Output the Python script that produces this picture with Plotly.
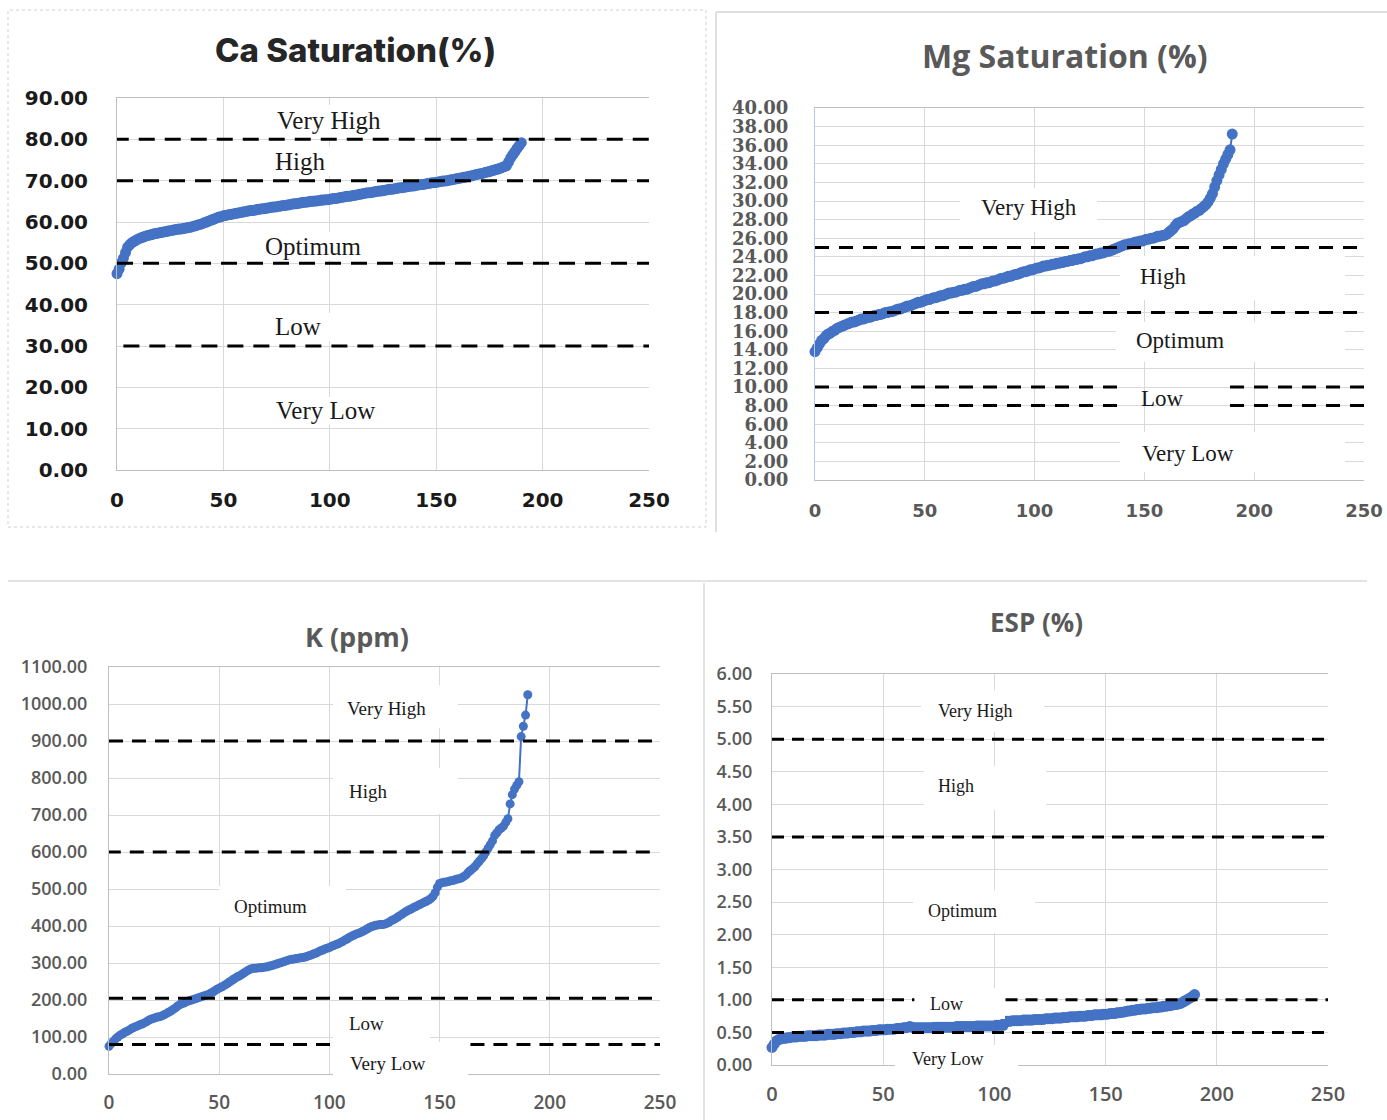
import plotly.graph_objects as go

# ---------------- data ----------------
ca_saturation = [
    47.5, 48.6, 50.1, 51.2, 52.6, 53.9, 54.5, 55.0, 55.3, 55.6,
    55.9, 56.1, 56.3, 56.5, 56.7, 56.8, 56.9, 57.1, 57.2, 57.3,
    57.4, 57.5, 57.6, 57.7, 57.8, 57.9, 58.0, 58.1, 58.2, 58.3,
    58.3, 58.4, 58.5, 58.6, 58.7, 58.8, 59.0, 59.1, 59.3, 59.4,
    59.6, 59.8, 60.0, 60.2, 60.4, 60.6, 60.8, 61.0, 61.2, 61.3,
    61.5, 61.6, 61.7, 61.8, 61.9, 62.0, 62.1, 62.2, 62.3, 62.4,
    62.5, 62.6, 62.7, 62.8, 62.8, 62.9, 63.0, 63.1, 63.2, 63.2,
    63.3, 63.4, 63.5, 63.6, 63.6, 63.7, 63.8, 63.9, 64.0, 64.0,
    64.1, 64.2, 64.3, 64.4, 64.4, 64.5, 64.6, 64.7, 64.8, 64.8,
    64.9, 65.0, 65.0, 65.1, 65.1, 65.2, 65.3, 65.3, 65.4, 65.4,
    65.5, 65.6, 65.7, 65.7, 65.8, 65.9, 66.0, 66.1, 66.2, 66.2,
    66.3, 66.4, 66.5, 66.6, 66.7, 66.8, 66.9, 67.0, 67.1, 67.1,
    67.2, 67.3, 67.4, 67.5, 67.5, 67.6, 67.7, 67.8, 67.9, 67.9,
    68.0, 68.1, 68.2, 68.3, 68.3, 68.4, 68.5, 68.6, 68.7, 68.7,
    68.8, 68.9, 69.0, 69.1, 69.1, 69.2, 69.3, 69.4, 69.5, 69.5,
    69.6, 69.7, 69.8, 69.9, 69.9, 70.0, 70.1, 70.2, 70.3, 70.4,
    70.5, 70.6, 70.7, 70.8, 70.9, 71.0, 71.1, 71.2, 71.4, 71.5,
    71.6, 71.7, 71.8, 72.0, 72.1, 72.2, 72.4, 72.5, 72.7, 72.8,
    73.0, 73.2, 73.4, 73.6, 74.5, 75.5, 76.3, 77.0, 77.8, 78.5,
    79.2,
]

mg_saturation = [
    13.8, 14.2, 14.6, 15.0, 15.2, 15.5, 15.7, 15.8, 16.0, 16.1,
    16.3, 16.4, 16.5, 16.6, 16.7, 16.8, 16.9, 17.0, 17.0, 17.1,
    17.2, 17.3, 17.3, 17.4, 17.5, 17.5, 17.6, 17.7, 17.7, 17.8,
    17.8, 17.9, 18.0, 18.0, 18.1, 18.1, 18.2, 18.3, 18.4, 18.4,
    18.5, 18.6, 18.7, 18.7, 18.8, 18.9, 19.0, 19.1, 19.1, 19.2,
    19.3, 19.4, 19.4, 19.5, 19.6, 19.6, 19.7, 19.8, 19.8, 19.9,
    20.0, 20.1, 20.1, 20.2, 20.2, 20.3, 20.4, 20.4, 20.5, 20.5,
    20.6, 20.7, 20.8, 20.8, 20.9, 21.0, 21.1, 21.1, 21.2, 21.2,
    21.3, 21.4, 21.4, 21.5, 21.6, 21.7, 21.7, 21.8, 21.9, 21.9,
    22.0, 22.1, 22.1, 22.2, 22.3, 22.4, 22.4, 22.5, 22.6, 22.6,
    22.7, 22.8, 22.8, 22.9, 23.0, 23.0, 23.1, 23.1, 23.2, 23.2,
    23.3, 23.3, 23.4, 23.4, 23.5, 23.5, 23.6, 23.6, 23.7, 23.7,
    23.8, 23.8, 23.9, 24.0, 24.0, 24.1, 24.1, 24.2, 24.3, 24.3,
    24.4, 24.4, 24.5, 24.6, 24.6, 24.7, 24.8, 24.9, 25.0, 25.1,
    25.2, 25.3, 25.3, 25.4, 25.4, 25.5, 25.6, 25.6, 25.7, 25.7,
    25.8, 25.9, 25.9, 26.0, 26.0, 26.1, 26.2, 26.2, 26.3, 26.3,
    26.4, 26.6, 26.8, 27.0, 27.3, 27.6, 27.7, 27.8, 27.9, 28.1,
    28.3, 28.4, 28.6, 28.7, 28.9, 29.0, 29.2, 29.4, 29.6, 29.9,
    30.3, 30.8, 31.5, 32.2, 32.8, 33.4, 34.0, 34.5, 35.0, 35.5,
    37.2,
]

k_ppm = [
    75, 82, 88, 95, 100, 105, 108, 112, 115, 118,
    122, 125, 128, 130, 133, 135, 138, 141, 145, 148,
    150, 152, 154, 155, 157, 160, 163, 167, 170, 174,
    178, 183, 187, 190, 192, 195, 197, 199, 201, 203,
    205, 207, 209, 211, 213, 215, 218, 221, 225, 229,
    232, 235, 238, 242, 246, 250, 254, 258, 262, 265,
    268, 272, 276, 280, 283, 285, 286, 286, 287, 287,
    288, 289, 290, 292, 293, 295, 297, 299, 301, 303,
    305, 307, 309, 310, 311, 312, 313, 314, 315, 316,
    318, 320, 322, 325, 327, 330, 333, 335, 338, 340,
    342, 345, 347, 350, 352, 355, 358, 362, 365, 369,
    372, 375, 378, 380, 382, 385, 388, 392, 395, 398,
    400, 402, 403, 404, 404, 405, 407, 410, 414, 417,
    420, 424, 428, 432, 436, 440, 443, 446, 449, 452,
    455, 458, 461, 464, 467, 470, 474, 480, 490, 505,
    515, 517, 518, 519, 520, 522, 523, 525, 527, 528,
    530, 534, 538, 545, 550, 555, 560, 568, 575, 582,
    590, 600, 610, 620, 630, 645, 652, 660, 665, 670,
    680, 690, 730, 755, 770, 780, 790, 912, 940, 970,
    1025,
]

esp_pct = [
    0.27, 0.32, 0.37, 0.39, 0.40, 0.41, 0.41, 0.42, 0.42, 0.43,
    0.43, 0.43, 0.44, 0.44, 0.44, 0.44, 0.45, 0.45, 0.45, 0.45,
    0.45, 0.46, 0.46, 0.46, 0.46, 0.47, 0.47, 0.47, 0.47, 0.48,
    0.48, 0.48, 0.49, 0.49, 0.49, 0.50, 0.50, 0.50, 0.51, 0.51,
    0.51, 0.52, 0.52, 0.52, 0.52, 0.53, 0.53, 0.53, 0.54, 0.54,
    0.54, 0.54, 0.55, 0.55, 0.55, 0.55, 0.56, 0.56, 0.56, 0.57,
    0.57, 0.58, 0.59, 0.58, 0.57, 0.57, 0.57, 0.57, 0.57, 0.57,
    0.57, 0.57, 0.57, 0.58, 0.58, 0.58, 0.58, 0.58, 0.58, 0.58,
    0.58, 0.58, 0.58, 0.59, 0.59, 0.59, 0.59, 0.59, 0.59, 0.59,
    0.59, 0.59, 0.60, 0.60, 0.60, 0.60, 0.60, 0.60, 0.60, 0.60,
    0.60, 0.61, 0.61, 0.61, 0.61, 0.67, 0.67, 0.67, 0.68, 0.68,
    0.68, 0.68, 0.68, 0.69, 0.69, 0.69, 0.69, 0.69, 0.70, 0.70,
    0.70, 0.70, 0.70, 0.71, 0.71, 0.71, 0.71, 0.72, 0.72, 0.72,
    0.72, 0.73, 0.73, 0.73, 0.74, 0.74, 0.74, 0.74, 0.75, 0.75,
    0.75, 0.75, 0.76, 0.76, 0.76, 0.77, 0.77, 0.77, 0.77, 0.78,
    0.78, 0.78, 0.79, 0.79, 0.79, 0.80, 0.80, 0.81, 0.81, 0.82,
    0.83, 0.83, 0.84, 0.84, 0.85, 0.85, 0.86, 0.86, 0.86, 0.87,
    0.87, 0.88, 0.88, 0.88, 0.89, 0.89, 0.90, 0.90, 0.91, 0.91,
    0.92, 0.93, 0.93, 0.94, 0.95, 0.97, 0.99, 1.01, 1.03, 1.05,
    1.08,
]

chart_titles = ["Ca Saturation(%)", "Mg Saturation (%)", "K (ppm)", "ESP (%)"]
class_labels = ["Very High", "High", "Optimum", "Low", "Very Low"]
ca_thresholds = [80, 70, 50, 30]
mg_thresholds = [25, 18, 10, 8]
k_thresholds = [900, 600, 205, 80]
esp_thresholds = [5.0, 3.5, 1.0, 0.5]

# ---------------- layout helpers ----------------
W, H = 1387, 1120
def px(x):
    return x / W
def py(y):
    return 1 - y / H

BLUE = "#4472C4"
GRID = "#d9d9d9"
GRAYTXT = "#595959"

fig = go.Figure()

series = [ca_saturation, mg_saturation, k_ppm, esp_pct]
msizes = [11, 11, 9, 11]
for i, vals in enumerate(series):
    sfx = "" if i == 0 else str(i + 1)
    fig.add_trace(go.Scatter(
        x=list(range(len(vals))), y=vals,
        mode="lines+markers",
        line=dict(color=BLUE, width=2),
        marker=dict(color=BLUE, size=msizes[i], line=dict(width=0)),
        xaxis="x" + sfx, yaxis="y" + sfx,
        cliponaxis=False, showlegend=False, hoverinfo="x+y",
    ))

def xax(dom, font, ticklen):
    return dict(domain=[px(dom[0]), px(dom[1])], range=[0, 250], dtick=50, tick0=0,
                showgrid=True, gridcolor=GRID, gridwidth=1, zeroline=False,
                showline=True, linecolor="#bfbfbf", linewidth=1, mirror=True,
                ticks="outside", ticklen=ticklen, tickcolor="rgba(0,0,0,0)",
                tickfont=font, fixedrange=True, automargin=False)

def yax(dom, rng, dt, font, ticklen, linecolor="#bfbfbf"):
    return dict(domain=[py(dom[1]), py(dom[0])], range=rng, dtick=dt, tick0=0,
                tickformat=".2f",
                showgrid=True, gridcolor=GRID, gridwidth=1, zeroline=False,
                showline=True, linecolor=linecolor, linewidth=1, mirror=False,
                ticks="outside", ticklen=ticklen, tickcolor="rgba(0,0,0,0)",
                tickfont=font, fixedrange=True, automargin=False)

ca_tick = dict(family="DejaVu Sans", size=20, color="#1a1a1a", weight=700)
mg_ytick = dict(family="DejaVu Serif", size=18, color=GRAYTXT, weight=700)
mg_xtick = dict(family="DejaVu Sans", size=18, color=GRAYTXT, weight=700)
k_ytick = dict(family="Open Sans", size=18, color=GRAYTXT, weight=600)
k_xtick = dict(family="Open Sans", size=19, color=GRAYTXT, weight=600)
esp_ytick = dict(family="Open Sans", size=18, color=GRAYTXT, weight=600)
esp_xtick = dict(family="Open Sans", size=20, color=GRAYTXT, weight=600)

fig.update_layout(
    width=W, height=H,
    margin=dict(l=0, r=0, t=0, b=0, pad=0, autoexpand=False),
    paper_bgcolor="white", plot_bgcolor="white",
    xaxis=dict(xax((117, 649), ca_tick, 12), anchor="y"),
    yaxis=dict(yax((98, 470), [0, 90], 10, ca_tick, 24), anchor="x"),
    xaxis2=dict(xax((815, 1364), mg_xtick, 14), anchor="y2"),
    yaxis2=dict(yax((108, 480), [0, 40], 2, mg_ytick, 22, linecolor="#b4c7e7"), anchor="x2"),
    xaxis3=dict(xax((109, 660), k_xtick, 11), anchor="y3"),
    yaxis3=dict(yax((667, 1074), [0, 1100], 100, k_ytick, 17), anchor="x3"),
    xaxis4=dict(xax((772, 1328), esp_xtick, 11), anchor="y4"),
    yaxis4=dict(yax((674, 1065), [0, 6], 0.5, esp_ytick, 15), anchor="x4"),
)

shapes = []
# panel borders
shapes.append(dict(type="rect", xref="paper", yref="paper", x0=px(8), x1=px(706), y0=py(527), y1=py(10),
                   line=dict(color="#d0d0d0", width=1, dash="dot"), layer="below"))
shapes.append(dict(type="line", xref="paper", yref="paper", x0=px(716), x1=px(1387), y0=py(12), y1=py(12),
                   line=dict(color="#e0e0e0", width=2), layer="below"))
shapes.append(dict(type="line", xref="paper", yref="paper", x0=px(716), x1=px(716), y0=py(12), y1=py(532),
                   line=dict(color="#e0e0e0", width=2), layer="below"))
shapes.append(dict(type="line", xref="paper", yref="paper", x0=px(8), x1=px(1367), y0=py(581), y1=py(581),
                   line=dict(color="#e3e3e3", width=2), layer="below"))
shapes.append(dict(type="line", xref="paper", yref="paper", x0=px(704), x1=px(704), y0=py(583), y1=py(1120),
                   line=dict(color="#e3e3e3", width=2), layer="below"))

def hline(ax, yv, x0, x1, dash, width=3):
    sfx = "" if ax == 1 else str(ax)
    shapes.append(dict(type="line", xref="x" + sfx, yref="y" + sfx, x0=x0, x1=x1, y0=yv, y1=yv,
                       line=dict(color="black", width=width, dash=dash), layer="above"))

# Ca thresholds
hline(1, ca_thresholds[0], -2, 250, "16px,10px")
hline(1, ca_thresholds[1], 0, 250, "16px,10px")
hline(1, ca_thresholds[2], 0, 250, "16px,10px")
hline(1, ca_thresholds[3], 3, 250, "16px,10px")
# Mg thresholds
hline(2, mg_thresholds[0], 0, 250, "14px,10px")
hline(2, mg_thresholds[1], 0, 250, "14px,10px")
for t in mg_thresholds[2:]:
    hline(2, t, 0, 139, "14px,10px")
    hline(2, t, 189, 250, "14px,10px")
# K thresholds
hline(3, k_thresholds[0], 0, 250, "14px,9px")
hline(3, k_thresholds[1], -1, 248, "14px,9px")
hline(3, k_thresholds[2], 0, 250, "14px,9px")
hline(3, k_thresholds[3], 0, 101, "14px,9px")
hline(3, k_thresholds[3], 164, 250, "14px,9px")
# ESP thresholds
hline(4, esp_thresholds[0], 0, 250, "12px,8px")
hline(4, esp_thresholds[1], 0, 250, "12px,8px")
hline(4, esp_thresholds[2], 0, 64, "12px,8px")
hline(4, esp_thresholds[2], 105, 250, "12px,8px")
hline(4, esp_thresholds[3], 0, 250, "12px,8px")

# white label boxes (pixel rectangles)
boxes = [
    # Ca
    (262, 396, 105, 137), (263, 339, 146, 176), (254, 372, 232, 260), (264, 334, 313, 341), (262, 388, 397, 425),
    # Mg
    (960, 1097, 188, 232), (1120, 1345, 256, 300), (1116, 1345, 322, 362), (1120, 1345, 432, 472),
    # K
    (333, 458, 685, 728), (333, 458, 768, 814), (219, 346, 886, 926), (333, 430, 1005, 1040), (333, 468, 1042, 1088),
    # ESP
    (921, 1044, 690, 732), (924, 1046, 766, 810), (913, 1035, 890, 933), (915, 1005, 988, 1019), (895, 1018, 1045, 1078),
]
for (x0, x1, y0, y1) in boxes:
    shapes.append(dict(type="rect", xref="paper", yref="paper", x0=px(x0), x1=px(x1), y0=py(y1), y1=py(y0),
                       fillcolor="white", line=dict(width=0), layer="above"))

fig.update_layout(shapes=shapes)

annotations = []
# titles
title_specs = [
    (chart_titles[0], 355, 50, dict(family="Inter", size=33, color="#262626", weight=800)),
    (chart_titles[1], 1065, 55, dict(family="Open Sans", size=32, color=GRAYTXT, weight=700)),
    (chart_titles[2], 357, 636, dict(family="Open Sans", size=27, color=GRAYTXT, weight=700)),
    (chart_titles[3], 1036, 622, dict(family="Open Sans", size=26, color=GRAYTXT, weight=700)),
]
for txt, x, y, f in title_specs:
    annotations.append(dict(text=txt, x=px(x), y=py(y), xref="paper", yref="paper",
                            xanchor="center", yanchor="middle", showarrow=False, font=f))

label_pos = [
    # Ca
    [(329, 121), (300, 161), (313, 246), (298, 327), (325, 411)],
    # Mg
    [(1029, 207), (1163, 276), (1180, 341), (1162, 398), (1188, 453)],
    # K
    [(386, 708), (368, 791), (270, 906), (366, 1023), (388, 1063)],
    # ESP
    [(975, 711), (956, 786), (962, 911), (946, 1004), (947, 1059)],
]
label_sizes = [25, 23, 19, 18]
for p, positions in enumerate(label_pos):
    for lab, (x, y) in zip(class_labels, positions):
        annotations.append(dict(text=lab, x=px(x), y=py(y), xref="paper", yref="paper",
                                xanchor="center", yanchor="middle", showarrow=False,
                                font=dict(family="Liberation Serif", size=label_sizes[p], color="#1a1a1a")))
fig.update_layout(annotations=annotations)

fig.write_html("out.html")
